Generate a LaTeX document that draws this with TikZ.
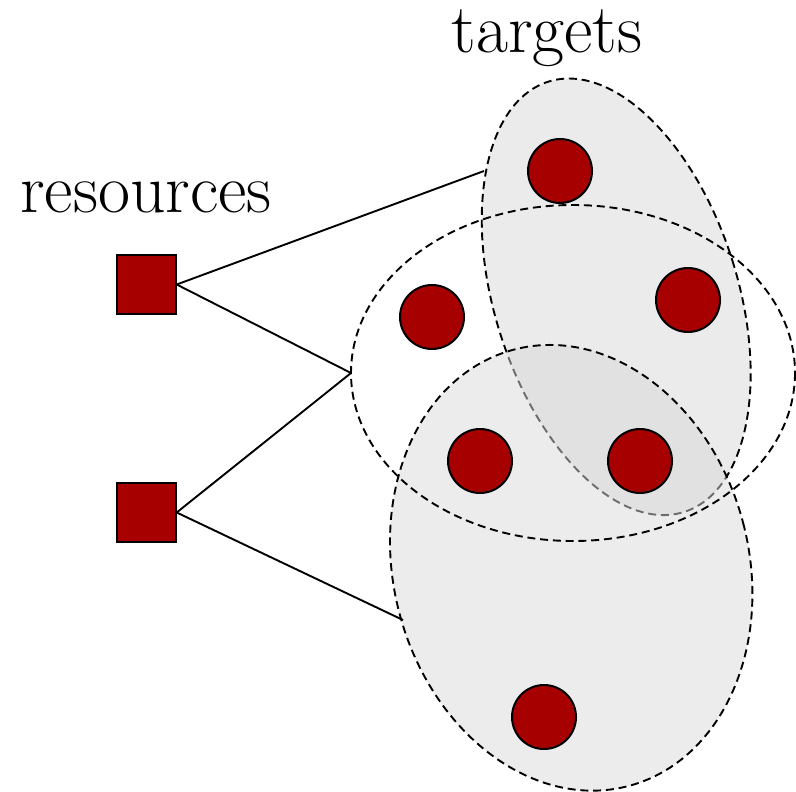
\documentclass[tikz,border=0pt]{standalone}
\definecolor{dotred}{RGB}{166,0,0}
\begin{document}
\begin{tikzpicture}[x=0.5pt,y=-0.5pt,
  region/.style={dash pattern=on 4pt off 2.4pt, line width=0.95pt},
  target/.style={circle, draw=black, line width=1pt, fill=dotred, minimum size=32pt, inner sep=0pt},
  resource/.style={rectangle, draw=black, line width=0.7pt, fill=dotred, minimum size=29.5pt, inner sep=0pt},
  link/.style={line width=0.95pt},
  lbl/.style={font=\fontsize{34.8}{40}\selectfont, inner sep=0pt, anchor=base}]
\useasboundingbox (0,0) rectangle (796,791);
% top (tilted) target set
\filldraw[region, fill=black!8, rotate around={17.5:(616.2,296.8)}] (616.2,296.8) ellipse [x radius=121.7, y radius=225.6];
% bottom target set (semi-transparent)
\fill[black!15, fill opacity=0.5, rotate around={14.7:(571.2,567.8)}] (571.2,567.8) ellipse [x radius=177.7, y radius=225.6];
\draw[region, rotate around={14.7:(571.2,567.8)}] (571.2,567.8) ellipse [x radius=177.7, y radius=225.6];
% middle target set
\draw[region] (573,373) ellipse [x radius=222, y radius=168];
% labels
\node[lbl] (lres) at (146,213) {resources};
\node[lbl] (ltar) at (547,53) {targets};
% resources
\node[resource] (r1) at (146.5,284.5) {};
\node[resource] (r2) at (146.5,512.5) {};
% connector ends
\coordinate (t1) at (484,171);
\coordinate (m1) at (351,373);
\coordinate (b1) at (403,620);
\draw[link] (r1.east) -- (t1);
\draw[link] (r1.east) -- (m1);
\draw[link] (r2.east) -- (m1);
\draw[link] (r2.east) -- (b1);
% targets
\node[target] (c1) at (560,171) {};
\node[target] (c2) at (688,300) {};
\node[target] (c3) at (432,317) {};
\node[target] (c4) at (480,461) {};
\node[target] (c5) at (640,461) {};
\node[target] (c6) at (544,717) {};
\end{tikzpicture}
\end{document}
